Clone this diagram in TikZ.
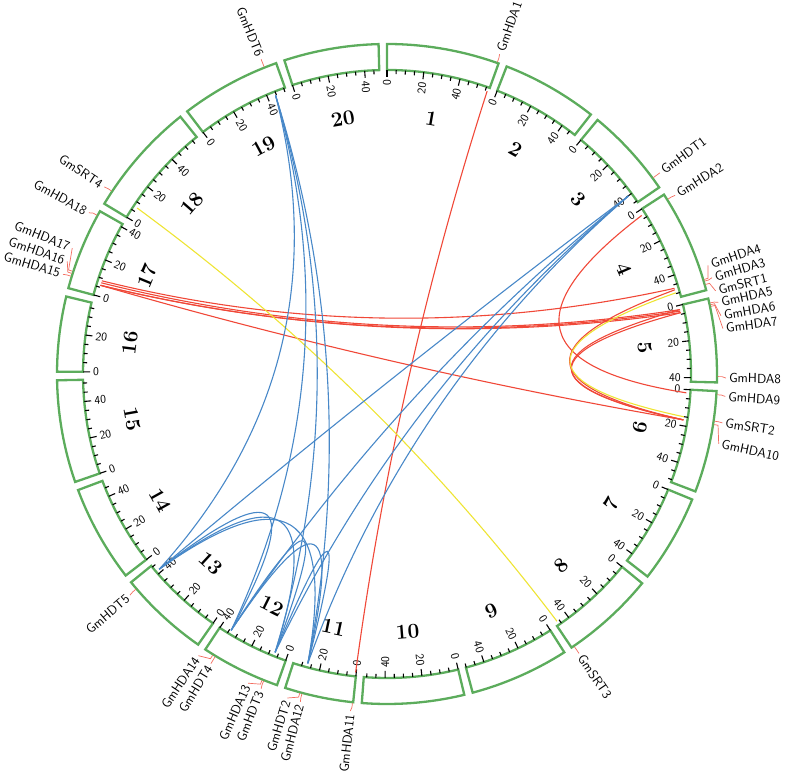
\documentclass[tikz,border=0pt]{standalone}
\usepackage{tikz}
\usetikzlibrary{calc}
\definecolor{chrgreen}{RGB}{92,172,92}
\definecolor{linkred}{RGB}{240,72,56}
\definecolor{linkblue}{RGB}{72,136,200}
\definecolor{linkyellow}{RGB}{238,228,52}
% link = quadratic bezier, control point at 1/4 of the chord midpoint
\newcommand\glink[3]{\draw[#1] (#2) .. controls ($0.41667*(#2)+0.08333*(#3)$) and ($0.08333*(#2)+0.41667*(#3)$) .. (#3);}

\begin{document}
\begin{tikzpicture}[
  chrbox/.style={draw=chrgreen,line width=2.3pt},
  tickline/.style={line width=1.1pt},
  ticklab/.style={font=\sffamily\fontsize{11.8}{13}\selectfont,inner sep=1pt},
  chrnum/.style={font=\bfseries\fontsize{21}{25}\selectfont,inner sep=0pt},
  genetick/.style={draw=linkred!80,line width=0.7pt},
  genelab/.style={font=\sffamily\fontsize{13.2}{15}\selectfont,inner sep=1pt},
  redlink/.style={draw=linkred,line width=1.1pt},
  bluelink/.style={draw=linkblue,line width=1.1pt},
  yellink/.style={draw=linkyellow,line width=1.1pt}]
\useasboundingbox (-387pt,-405pt) rectangle (400pt,374pt);
% chromosomes
\foreach \i/\s/\len in {1/90/56.83,2/68.74/48.58,3/50.35/45.78,4/32.93/52.39,5/13.22/42.23,
  6/-2.97/51.42,7/-22.35/44.63,8/-39.36/47.84,9/-57.50/50.19,10/-76.45/51.57,
  11/-95.88/34.77,12/-109.47/40.09,13/-124.91/45.87,14/-142.36/49.04,15/-160.91/51.76,
  16/-180.41/37.89,17/-195.08/41.64,18/-211.06/58.02,19/-232.73/50.75,20/-251.88/47.90}{
  \pgfmathsetmacro\e{\s-\len*0.3477}
  \pgfmathsetmacro\m{(\s+\e)/2}
  \draw[chrbox] (\s:304pt) arc[start angle=\s,end angle=\e,radius=304pt] -- (\e:330pt)
    arc[start angle=\e,end angle=\s,radius=330pt] -- cycle;
  \pgfmathsetmacro\sn{sin(\m)}
  \ifdim\sn pt>0pt \pgfmathsetmacro\rotc{\m-90}\else\pgfmathsetmacro\rotc{\m+90}\fi
  \node[chrnum,rotate=\rotc] (c\i) at (\m:259pt) {\i};
  \pgfmathtruncatemacro\n{\len/5}
  \foreach \j in {0,...,\n}{
    \pgfmathsetmacro\ta{\s-\j*5*0.3477}
    \pgfmathtruncatemacro\v{\j*5}
    \pgfmathtruncatemacro\md{mod(\v,20)}
    \ifnum\md=0
      \draw[tickline] (\ta:304pt) -- (\ta:297pt);
      \pgfmathsetmacro\cosv{cos(\ta)}
      \ifdim\cosv pt<0pt
        \node[ticklab,rotate=\ta+180,anchor=west] (t\i-\v) at (\ta:295pt) {\v};
      \else
        \node[ticklab,rotate=\ta,anchor=east] (t\i-\v) at (\ta:295pt) {\v};
      \fi
    \else
      \draw[tickline] (\ta:304pt) -- (\ta:300pt);
    \fi
  }
}
% genes, right half
\foreach \gn/\ga/\la in {HDA1/70.5/70.6,HDT1/36.4/36.4,HDA2/31.9/31.8,HDA4/16.6/18.7,
  HDA3/16.3/16.5,SRT1/15.7/14.2,HDA5/12.4/12.2,HDA6/12.1/9.9,HDA7/11.8/7.7,
  HDA8/-0.45/-0.7,HDA9/-3.6/-3.8,SRT2/-8.2/-8.3,HDA10/-8.8/-11.9,SRT3/-55.5/-55.5}{
  \coordinate (\gn) at (\ga:300pt);
  \draw[genetick] (\ga:331pt) -- (\ga:335pt) -- (\la:339pt);
  \node[genelab,rotate=\la,anchor=west] (l\gn) at (\la:341pt) {Gm\gn};
}
% genes, left half
\foreach \gn/\ga/\la in {HDA11/-96.0/-96.2,HDT2/-105.3/-107.1,HDA12/-104.9/-104.8,
  HDA13/-112.2/-114.2,HDT3/-111.9/-111.8,HDA14/-121.8/-123.8,HDT4/-121.3/-121.3,
  HDT5/-139.4/-139.3,HDA15/162.8/162.9,HDA16/162.3/160.6,HDA17/161.9/158.2,
  HDA18/151.3/151.6,SRT4/146.4/146.5,HDT6/111.8/111.8}{
  \coordinate (\gn) at (\ga:300pt);
  \draw[genetick] (\ga:331pt) -- (\ga:335pt) -- (\la:339pt);
  \node[genelab,rotate=\la+180,anchor=east] (l\gn) at (\la:341pt) {Gm\gn};
}
% links
\glink{redlink}{HDA1}{HDA11}
\glink{redlink}{HDA2}{HDA9}
\glink{redlink}{HDA17}{HDA4}
\glink{redlink}{HDA16}{HDA5}
\glink{redlink}{HDA15}{HDA6}
\glink{redlink}{HDA15}{HDA7}
\glink{redlink}{HDA15}{HDA10}
\glink{redlink}{HDA3}{HDA10}
\glink{redlink}{HDA5}{HDA10}
\glink{redlink}{HDA7}{HDA10}
\glink{yellink}{SRT1}{SRT2}
\glink{yellink}{SRT4}{SRT3}
\foreach \a/\b in {HDT1/HDT5,HDT1/HDT4,HDT1/HDT3,HDT1/HDT2,HDT6/HDT5,HDT6/HDT4,HDT6/HDT3,
  HDT6/HDT2,HDT5/HDT4,HDT5/HDT3,HDT5/HDT2,HDT4/HDT3,HDT4/HDT2,HDT3/HDT2}{
  \glink{bluelink}{\a}{\b}
}
\end{tikzpicture}
\end{document}
